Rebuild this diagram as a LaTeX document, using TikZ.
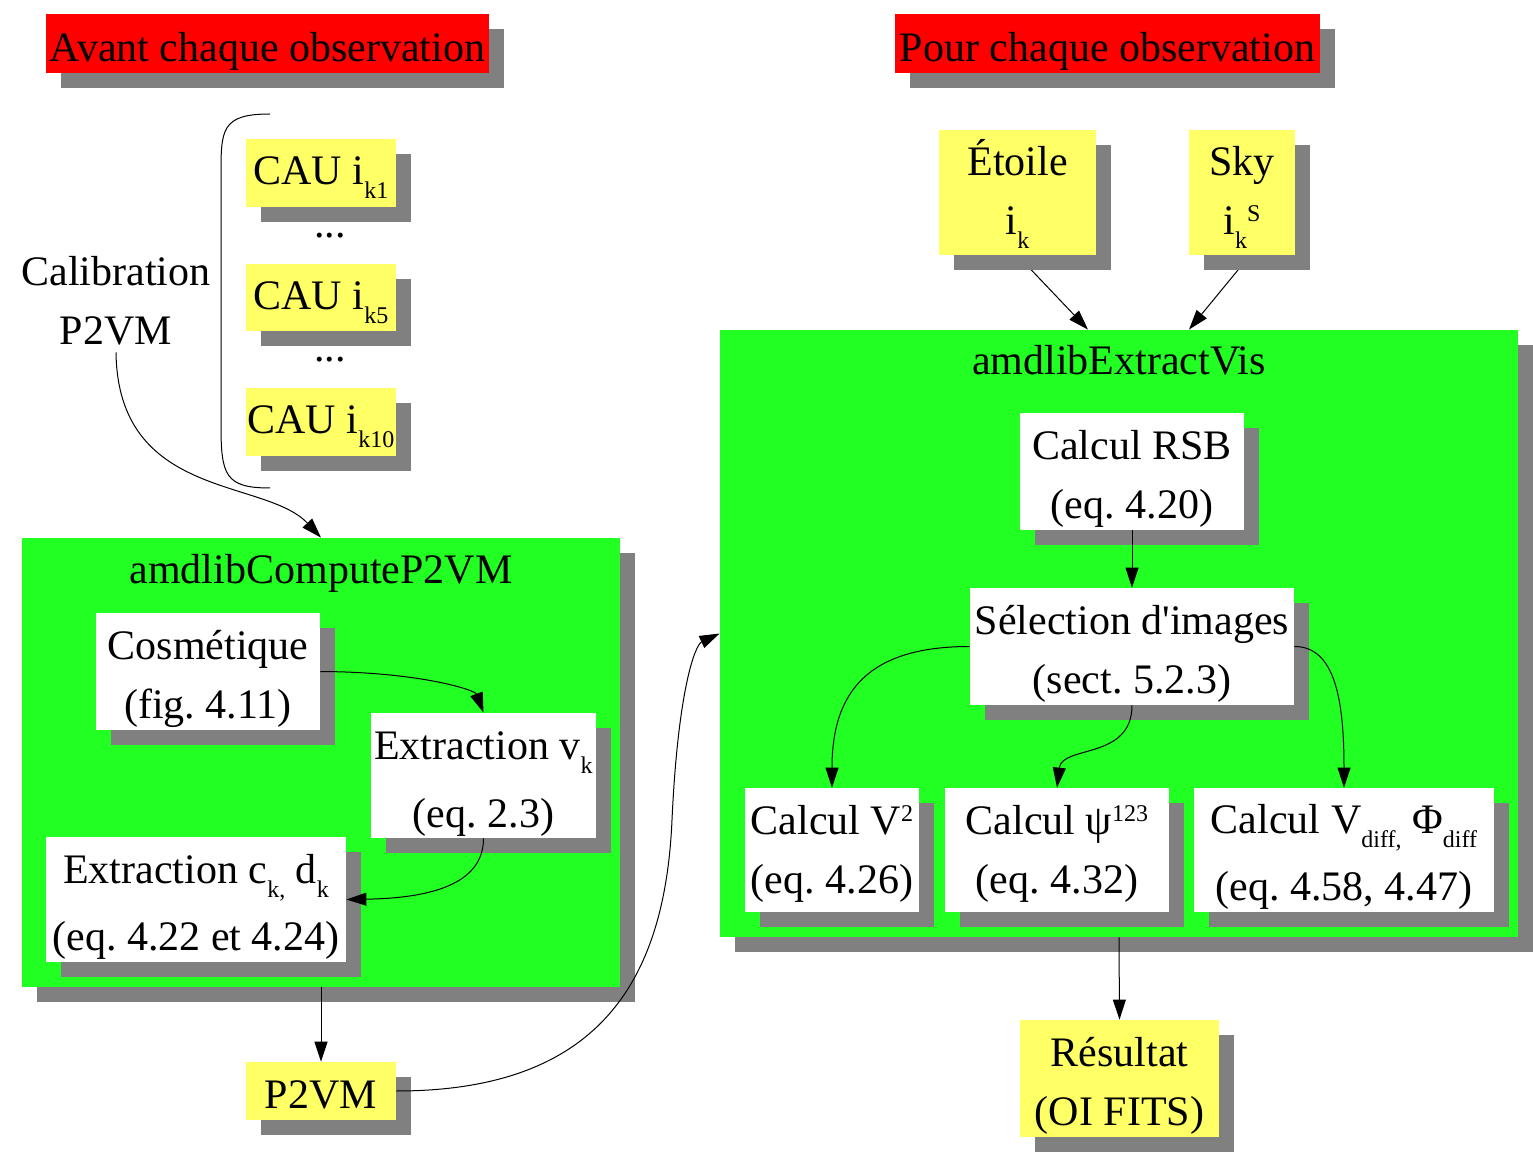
\documentclass[tikz,border=0pt]{standalone}
\usepackage{fontspec}
\setmainfont{Liberation Serif}
\usetikzlibrary{shadows,arrows.meta}

\definecolor{hdrred}{RGB}{255,0,0}
\definecolor{boxyellow}{RGB}{255,255,102}
\definecolor{boxgreen}{RGB}{34,255,34}
\definecolor{shadowgray}{RGB}{128,128,128}

\newcommand{\lowsub}[1]{\raisebox{-7pt}{\fontsize{12}{12}\selectfont #1}}
\newcommand{\highsup}[1]{\raisebox{6.5pt}{\fontsize{12}{12}\selectfont #1}}

\pgfdeclarelayer{background}
\pgfsetlayers{background,main}

\begin{document}
\frenchspacing
\begin{tikzpicture}[
    x=0.5pt, y=-0.5pt,
    every node/.style={font=\fontsize{21}{29.5}\selectfont},
    shadowed/.style={drop shadow={shadow xshift=7.5pt, shadow yshift=-7.5pt, fill=shadowgray, opacity=1}},
    header/.style={shadowed, fill=hdrred, inner sep=0pt, minimum height=29.5pt, text height=20pt, text depth=1.5pt},
    input/.style={shadowed, fill=boxyellow, inner sep=0pt, align=center},
    stepbox/.style={shadowed, fill=white, inner sep=0pt, align=center, text depth=5pt},
    module/.style={shadowed, fill=boxgreen, inner sep=0pt},
    flow/.style={-{Triangle[length=10pt, width=6.5pt]}, line width=0.5pt}
]
\useasboundingbox (0,0) rectangle (1533,1160);

% Headers
\node[header, minimum width=221.5pt] (avant) at (267.5,43.5) {Avant chaque observation};
\node[header, minimum width=212.5pt] (pour) at (1107.5,43.5) {Pour chaque observation};

% Calibration P2VM
\node[input, minimum width=75pt, minimum height=34pt, text height=19pt, text depth=7pt] (cau1) at (321,173) {CAU i\lowsub{k1}};
\node (dots1) at (330,236) {...};
\node[input, minimum width=75pt, minimum height=33.5pt, text height=19pt, text depth=7pt] (cau5) at (321,297.5) {CAU i\lowsub{k5}};
\node (dots2) at (330,360) {...};
\node[input, minimum width=75pt, minimum height=34pt, text height=19pt, text depth=7pt] (cau10) at (321,422) {CAU i\lowsub{k10}};
\node[align=center] (calib) at (116,301) {Calibration\\P2VM};

\draw[line width=0.5pt] (270,114) .. controls (221,114) and (221,130) .. (221,175)
    -- (221,425) .. controls (221,475) and (225,488) .. (270,488);

% amdlibComputeP2VM
\node[module, minimum width=299pt, minimum height=224.5pt] (computebox) at (321,762.5) {};
\node (computetitle) at (321,573) {amdlibComputeP2VM};

\node[stepbox, minimum width=112pt, minimum height=58.5pt, text height=52.2pt] (cosm) at (208,671.5) {Cosmétique\\(fig. 4.11)};
\node[stepbox, minimum width=112.5pt, minimum height=62.5pt, text height=57.2pt] (extv) at (483.5,775.5) {Extraction v\lowsub{k}\\[4.5pt](eq. 2.3)};
\node[stepbox, minimum width=150pt, minimum height=62.5pt, text height=56.2pt] (extcd) at (196,899.5) {Extraction c\lowsub{k,} d\lowsub{k}\\[4pt](eq. 4.22 et 4.24)};

\node[input, minimum width=75pt, minimum height=29pt, text height=17pt, text depth=0pt] (p2vm) at (321,1091) {P2VM};

\draw[flow] (calib.south) .. controls (118,500) and (265,478) .. (computebox.north);
\draw[flow] (cosm.east) .. controls (420,672) and (475,690) .. (extv.north);
\draw[flow] (extv.south) .. controls (483.5,880) and (440,898) .. (extcd.east);
\draw[flow] (computebox.south) -- (p2vm.north);

% amdlibExtractVis
\node[module, minimum width=399pt, minimum height=303.5pt] (extractbox) at (1119,633.5) {};
\node (extracttitle) at (1119,360) {amdlibExtractVis};

\node[input, minimum width=78.5pt, minimum height=62.5pt, text height=49.5pt, text depth=7pt] (etoile) at (1017.5,192.5) {Étoile\\i\lowsub{k}};
\node[input, minimum width=53pt, minimum height=62.5pt, text height=49.5pt, text depth=7pt] (sky) at (1242,192.5) {Sky\\i\lowsub{k}\highsup{S}};

\node[stepbox, minimum width=112pt, minimum height=58.5pt, text height=52.2pt] (rsb) at (1132,471.5) {Calcul RSB\\(eq. 4.20)};
\node[stepbox, minimum width=162pt, minimum height=58.5pt, text height=52.2pt] (sel) at (1132,646.5) {Sélection d\textquotesingle images\\(sect. 5.2.3)};
\node[stepbox, minimum width=87pt, minimum height=62pt, text height=48.7pt] (vsq) at (832,850) {Calcul V\highsup{2}\\(eq. 4.26)};
\node[stepbox, minimum width=112pt, minimum height=62pt, text height=48.7pt] (clos) at (1057,850) {Calcul ψ\highsup{123}\\(eq. 4.32)};
\node[stepbox, minimum width=150pt, minimum height=62pt, text height=55.7pt] (vdiff) at (1344,850) {Calcul V\lowsub{diff,} Φ\lowsub{diff}\\[4pt](eq. 4.58, 4.47)};

\node[input, minimum width=99.5pt, minimum height=58.5pt, text height=52.2pt, text depth=5pt] (result) at (1119.5,1078.5) {Résultat\\(OI FITS)};

\begin{pgfonlayer}{background}
    \draw[flow] (etoile.south) -- ([xshift=-15.5pt]extractbox.north);
    \draw[flow] ([xshift=4pt]sky.south) -- ([xshift=35pt]extractbox.north);
\end{pgfonlayer}

\draw[flow] (p2vm.east) .. controls (600,1091) and (665,980) .. (672,820)
    .. controls (678,690) and (695,645) .. (extractbox.west);
\draw[flow] (rsb.south) -- (sel.north);
\draw[flow] (sel.west) .. controls (870,646.5) and (832,690) .. (vsq.north);
\draw[flow] (sel.south) .. controls (1132,760) and (1062,745) .. (clos.north);
\draw[flow] (sel.east) .. controls (1335,646.5) and (1344,700) .. (vdiff.north);
\draw[flow] (extractbox.south) -- (result.north);

\end{tikzpicture}
\end{document}
